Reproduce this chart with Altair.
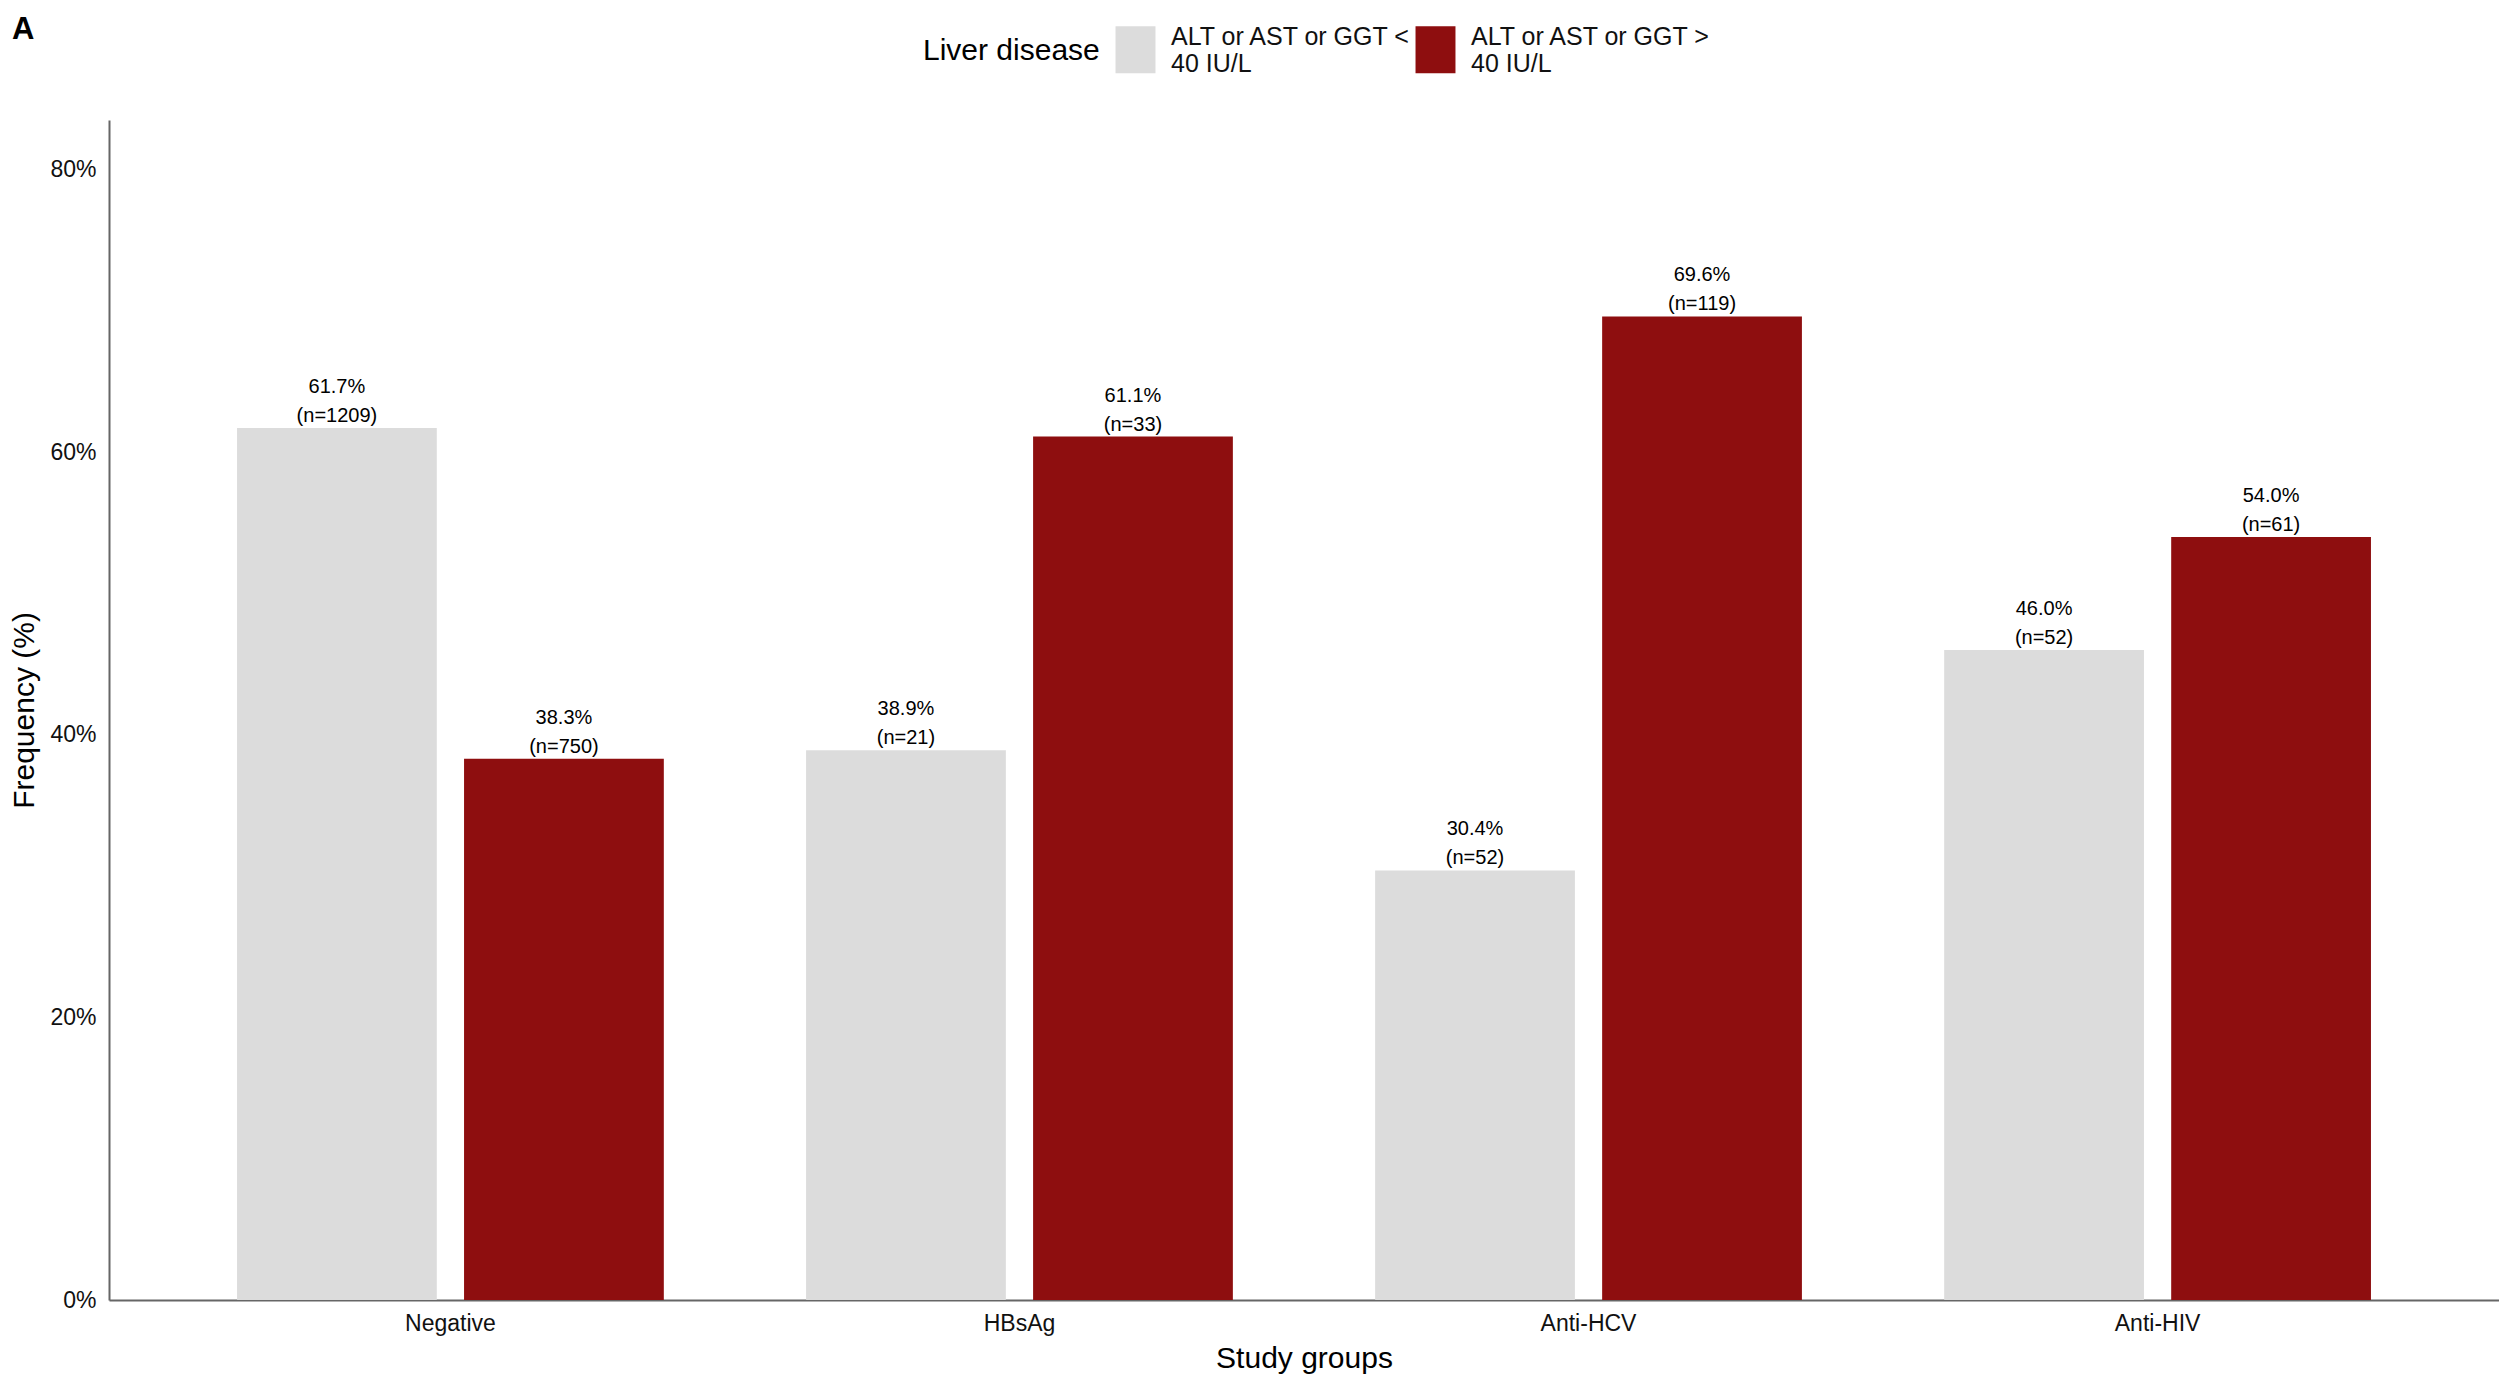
import altair as alt
import pandas as pd

GROUPS = ["Negative", "HBsAg", "Anti-HCV", "Anti-HIV"]
LEVELS = ["ALT or AST or GGT < 40 IU/L", "ALT or AST or GGT > 40 IU/L"]
PCT_NORMAL = [61.7, 38.9, 30.4, 46.0]
PCT_ELEVATED = [38.3, 61.1, 69.6, 54.0]
N_NORMAL = [1209, 21, 52, 52]
N_ELEVATED = [750, 33, 119, 61]
COLORS = ["#DCDCDC", "#8E0E0F"]
Y_TICKS = [0, 20, 40, 60, 80]

rows = []
for i, g in enumerate(GROUPS):
    for lvl, pcts, ns in ((LEVELS[0], PCT_NORMAL, N_NORMAL), (LEVELS[1], PCT_ELEVATED, N_ELEVATED)):
        rows.append({"group": g, "level": lvl, "pct": pcts[i], "n": ns[i],
                     "label": f"{pcts[i]:.1f}%\n(n={ns[i]})"})
df = pd.DataFrame(rows)

FONT = "Liberation Sans"
W, H = 2390, 1180
AXIS_COLOR = "#666666"

x = alt.X(
    "group:N", sort=GROUPS, title="Study groups",
    scale=alt.Scale(paddingInner=0.25, paddingOuter=0.225),
    axis=alt.Axis(labelAngle=0, labelFontSize=23, labelPadding=12, ticks=False, tickSize=0,
                  domainColor=AXIS_COLOR, domainWidth=2, labelColor="#111111",
                  titleFontSize=30, titleFontWeight="normal", titleColor="#000000",
                  titleY=58, titleBaseline="middle"),
)
xo = alt.XOffset("level:N", sort=LEVELS, scale=alt.Scale(paddingInner=0.12, paddingOuter=0))
y = alt.Y(
    "pct:Q", title="Frequency (%)",
    scale=alt.Scale(domain=[0, 83.5], nice=False, zero=True),
    axis=alt.Axis(values=Y_TICKS, labelExpr="datum.value + '%'", ticks=False, tickSize=0, grid=False,
                  labelFontSize=23, labelPadding=13, labelColor="#111111",
                  domainColor=AXIS_COLOR, domainWidth=2,
                  titleFontSize=30, titleFontWeight="normal", titleColor="#000000",
                  titleX=-85, titleY=590, titleAngle=270, titleAlign="center", titleBaseline="middle"),
)
color = alt.Color(
    "level:N", sort=LEVELS,
    scale=alt.Scale(domain=LEVELS, range=COLORS),
    legend=alt.Legend(orient="none", legendX=814, legendY=-94, direction="horizontal",
                      title="Liver disease", titleOrient="left", titleFontSize=30,
                      titleFontWeight="normal", titleColor="#000000", titlePadding=12,
                      titleBaseline="middle",
                      labelFontSize=25, labelLimit=400, labelColor="#111111", labelOffset=12,
                      labelBaseline="bottom",
                      labelExpr="[slice(datum.label, 0, 19), slice(datum.label, 20)]",
                      symbolType="M-0.85,-1H0.85V1H-0.85Z", symbolSize=2209,
                      symbolStrokeWidth=0, symbolOpacity=1, columnPadding=0),
)

bars = alt.Chart(df).mark_bar().encode(x=x, xOffset=xo, y=y, color=color)
labels = alt.Chart(df).mark_text(
    lineBreak="\n", baseline="bottom", dy=-31, fontSize=20, lineHeight=29, font=FONT, color="#000000"
).encode(x=alt.X("group:N", sort=GROUPS), xOffset=alt.XOffset("level:N", sort=LEVELS),
         y=alt.Y("pct:Q"), text="label:N")

chart = alt.layer(bars, labels).properties(
    width=W, height=H,
    title=alt.TitleParams("A", anchor="start", frame="group", fontSize=31, fontWeight="bold",
                          font=FONT, dx=-97, dy=24, baseline="top", color="#000000"),
    autosize=alt.AutoSizeParams(type="none"),
    padding={"left": 101, "top": 112, "right": 0, "bottom": 78},
).configure(font=FONT, style={"guide-label": {"lineHeight": 27}}).configure_view(strokeWidth=0)

chart.save("out.html", embed_options={"renderer": "svg", "actions": False})
